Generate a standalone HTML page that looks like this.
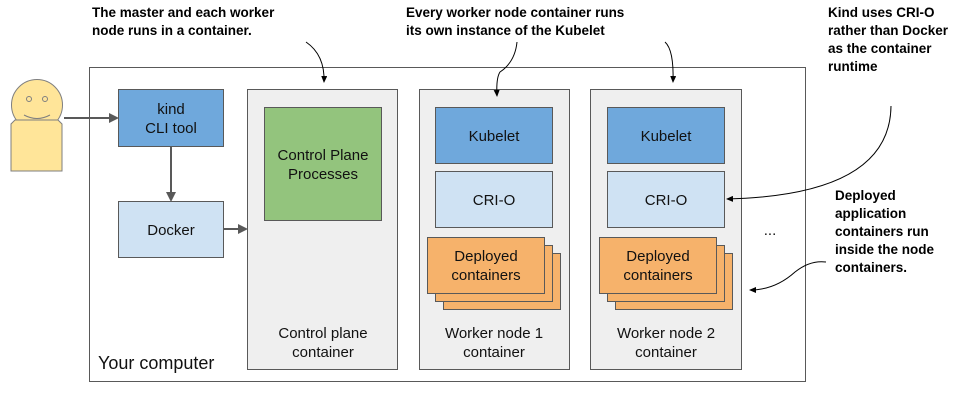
<!DOCTYPE html>
<html><head><style>
body{margin:0;background:#fff;}
svg text{font-family:"Liberation Sans",sans-serif;}
.b{font-weight:bold;font-size:13.5px;fill:#000;}
.n{font-size:15px;fill:#111;}
</style></head><body>
<svg width="954" height="400" viewBox="0 0 954 400" xmlns="http://www.w3.org/2000/svg">
<defs>
<marker id="ag" markerWidth="10" markerHeight="10" refX="8" refY="5" orient="auto" markerUnits="userSpaceOnUse"><path d="M0,0 L10,5 L0,10 z" fill="#595959"/></marker>
<marker id="ak" markerWidth="7" markerHeight="6" refX="6" refY="3" orient="auto" markerUnits="userSpaceOnUse"><path d="M0,0 L7,3 L0,6 z" fill="#000"/></marker>
</defs>
<text class="b" x="92" y="17">The master and each worker</text>
<text class="b" x="92" y="35">node runs in a container.</text>
<text class="b" x="406" y="17">Every worker node container runs</text>
<text class="b" x="406" y="35">its own instance of the Kubelet</text>
<text class="b" x="828" y="17">Kind uses CRI-O</text>
<text class="b" x="828" y="35">rather than Docker</text>
<text class="b" x="828" y="53">as the container</text>
<text class="b" x="828" y="71">runtime</text>
<text class="b" x="835" y="200">Deployed</text>
<text class="b" x="835" y="218">application</text>
<text class="b" x="835" y="236">containers run</text>
<text class="b" x="835" y="254">inside the node</text>
<text class="b" x="835" y="272">containers.</text>
<rect x="89.5" y="67.5" width="716" height="314" fill="#fff" stroke="#595959"/>
<text x="98" y="369" style="font-size:18px;fill:#111">Your computer</text>
<circle cx="37" cy="105" r="25.5" fill="#ffe599" stroke="#7f7f7f"/>
<circle cx="29" cy="99" r="2.5" fill="none" stroke="#7f7f7f"/>
<circle cx="45" cy="99" r="2.5" fill="none" stroke="#7f7f7f"/>
<path d="M24,115 Q37,122 50,115" fill="none" stroke="#7f7f7f"/>
<path d="M15,120 L58,120 L62,124 L62,171 L11,171 L11,124 z" fill="#ffe599" stroke="#7f7f7f"/>
<line x1="64" y1="118" x2="117" y2="118" stroke="#595959" stroke-width="2" marker-end="url(#ag)"/>
<rect x="118.5" y="89.5" width="105" height="57" fill="#6fa8dc" stroke="#595959"/>
<text class="n" x="171" y="114" text-anchor="middle">kind</text>
<text class="n" x="171" y="133" text-anchor="middle">CLI tool</text>
<line x1="171" y1="147" x2="171" y2="200" stroke="#595959" stroke-width="2" marker-end="url(#ag)"/>
<rect x="118.5" y="201.5" width="105" height="56" fill="#cfe2f3" stroke="#595959"/>
<text class="n" x="171" y="235" text-anchor="middle">Docker</text>
<line x1="224" y1="229" x2="246" y2="229" stroke="#595959" stroke-width="2" marker-end="url(#ag)"/>
<rect x="247.5" y="89.5" width="150" height="280" fill="#efefef" stroke="#595959"/>
<rect x="264.5" y="107.5" width="117" height="113" fill="#93c47d" stroke="#595959"/>
<text class="n" x="323" y="160" text-anchor="middle">Control Plane</text>
<text class="n" x="323" y="179" text-anchor="middle">Processes</text>
<text class="n" x="323" y="338" text-anchor="middle">Control plane</text>
<text class="n" x="323" y="357" text-anchor="middle">container</text>
<rect x="419.5" y="89.5" width="150" height="280" fill="#efefef" stroke="#595959"/>
<rect x="435.5" y="107.5" width="117" height="56" fill="#6fa8dc" stroke="#595959"/>
<text class="n" x="494" y="141" text-anchor="middle">Kubelet</text>
<rect x="435.5" y="171.5" width="117" height="56" fill="#cfe2f3" stroke="#595959"/>
<text class="n" x="494" y="205" text-anchor="middle">CRI-O</text>
<rect x="443.5" y="253.5" width="117" height="56" fill="#f6b26b" stroke="#595959"/>
<rect x="435.5" y="245.5" width="117" height="56" fill="#f6b26b" stroke="#595959"/>
<rect x="427.5" y="237.5" width="117" height="56" fill="#f6b26b" stroke="#595959"/>
<text class="n" x="486" y="261" text-anchor="middle">Deployed</text>
<text class="n" x="486" y="280" text-anchor="middle">containers</text>
<text class="n" x="494" y="338" text-anchor="middle">Worker node 1</text>
<text class="n" x="494" y="357" text-anchor="middle">container</text>
<rect x="590.5" y="89.5" width="151" height="280" fill="#efefef" stroke="#595959"/>
<rect x="607.5" y="107.5" width="117" height="56" fill="#6fa8dc" stroke="#595959"/>
<text class="n" x="666" y="141" text-anchor="middle">Kubelet</text>
<rect x="607.5" y="171.5" width="117" height="56" fill="#cfe2f3" stroke="#595959"/>
<text class="n" x="666" y="205" text-anchor="middle">CRI-O</text>
<rect x="615.5" y="253.5" width="117" height="56" fill="#f6b26b" stroke="#595959"/>
<rect x="607.5" y="245.5" width="117" height="56" fill="#f6b26b" stroke="#595959"/>
<rect x="599.5" y="237.5" width="117" height="56" fill="#f6b26b" stroke="#595959"/>
<text class="n" x="658" y="261" text-anchor="middle">Deployed</text>
<text class="n" x="658" y="280" text-anchor="middle">containers</text>
<text class="n" x="666" y="338" text-anchor="middle">Worker node 2</text>
<text class="n" x="666" y="357" text-anchor="middle">container</text>
<text class="n" x="770" y="235" text-anchor="middle">...</text>
<path d="M306,42 Q325,55 324,82" fill="none" stroke="#000" marker-end="url(#ak)"/>
<path d="M517,42 Q515,62 500,72 Q496,78 497,96" fill="none" stroke="#000" marker-end="url(#ak)"/>
<path d="M665,42 Q674,50 673,82" fill="none" stroke="#000" marker-end="url(#ak)"/>
<path d="M891,106 Q890,195 727,199" fill="none" stroke="#000" marker-end="url(#ak)"/>
<path d="M826,262 Q810,260 795,272 Q775,290 750,290" fill="none" stroke="#000" marker-end="url(#ak)"/>
</svg>
</body></html>
